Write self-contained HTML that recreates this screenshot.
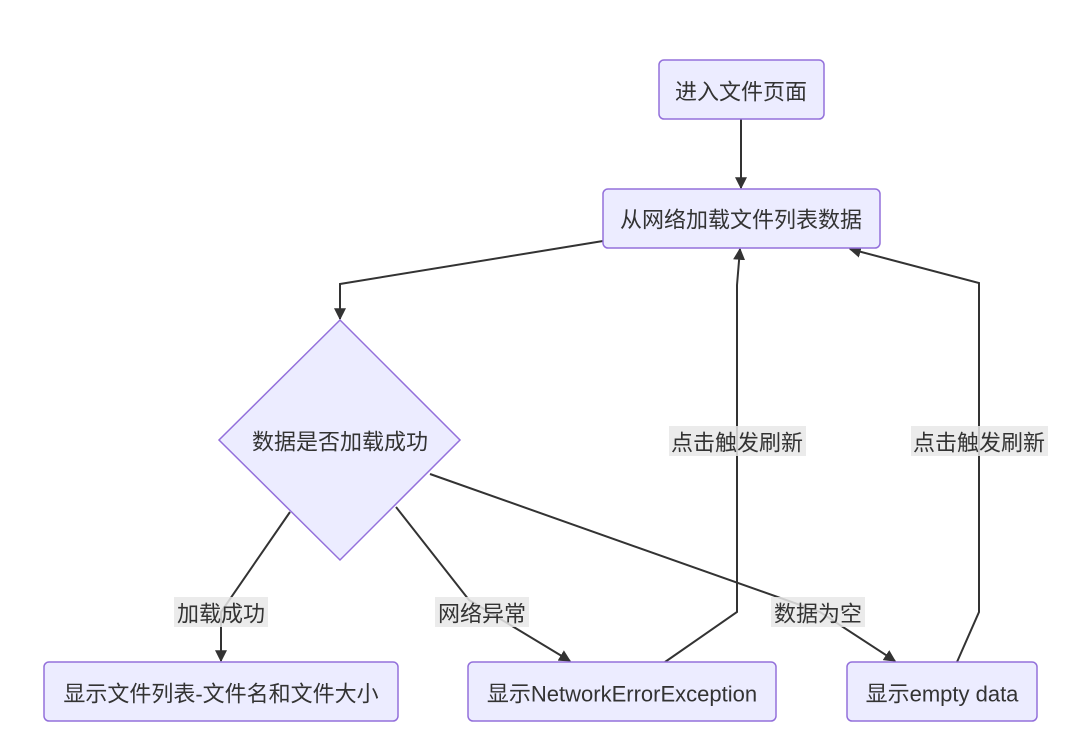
<!DOCTYPE html>
<html><head><meta charset="utf-8"><style>
html,body{margin:0;padding:0;background:#fff;width:1080px;height:739px;overflow:hidden}
text{font-family:"Liberation Sans","Noto Sans CJK SC",sans-serif;font-size:22px;fill:#333}
</style></head><body>
<svg width="1080" height="739" viewBox="0 0 1080 739" xmlns="http://www.w3.org/2000/svg">
<defs><marker id="ar" viewBox="0 0 10 10" refX="9" refY="5" markerWidth="12" markerHeight="12" markerUnits="userSpaceOnUse" orient="auto"><path d="M0,0L10,5L0,10z" fill="#333"/></marker></defs>
<g fill="none" stroke="#333" stroke-width="2">
<path d="M741,119V188" marker-end="url(#ar)"/>
<path d="M603,241L340,284V319" marker-end="url(#ar)"/>
<path d="M665,662L737,612V285L740,249" marker-end="url(#ar)"/>
<path d="M957,662L979,612V283L850,249" marker-end="url(#ar)"/>
<path d="M290,512L221,612V661" marker-end="url(#ar)"/>
<path d="M396,507L469,600L570,661" marker-end="url(#ar)"/>
<path d="M430,474L820,612L895,661" marker-end="url(#ar)"/>
</g>
<g fill="#ececff" stroke="#9370db" stroke-width="1.5">
<rect x="659" y="60" width="165" height="59" rx="5"/>
<rect x="603" y="189" width="277" height="59" rx="5"/>
<path d="M340,320L460,440L340,560L219,440z"/>
<rect x="44" y="662" width="354" height="59" rx="5"/>
<rect x="468" y="662" width="308" height="59" rx="5"/>
<rect x="847" y="662" width="190" height="59" rx="5"/>
</g>
<g fill="rgba(232,232,232,0.85)">
<rect x="669" y="426" width="137" height="30"/>
<rect x="911" y="426" width="137" height="30"/>
<rect x="174" y="597" width="94" height="30"/>
<rect x="435" y="597" width="94" height="30"/>
<rect x="771" y="597" width="94" height="30"/>
</g>
<g text-anchor="middle" dominant-baseline="central">
<text x="741" y="92">进入文件页面</text>
<text x="741" y="220">从网络加载文件列表数据</text>
<text x="340" y="442">数据是否加载成功</text>
<text x="221" y="694">显示文件列表-文件名和文件大小</text>
<text x="622" y="694">显示NetworkErrorException</text>
<text x="942" y="694">显示empty data</text>
<text x="737" y="443">点击触发刷新</text>
<text x="979" y="443">点击触发刷新</text>
<text x="221" y="614">加载成功</text>
<text x="482" y="614">网络异常</text>
<text x="818" y="614">数据为空</text>
</g>
</svg>
</body></html>
